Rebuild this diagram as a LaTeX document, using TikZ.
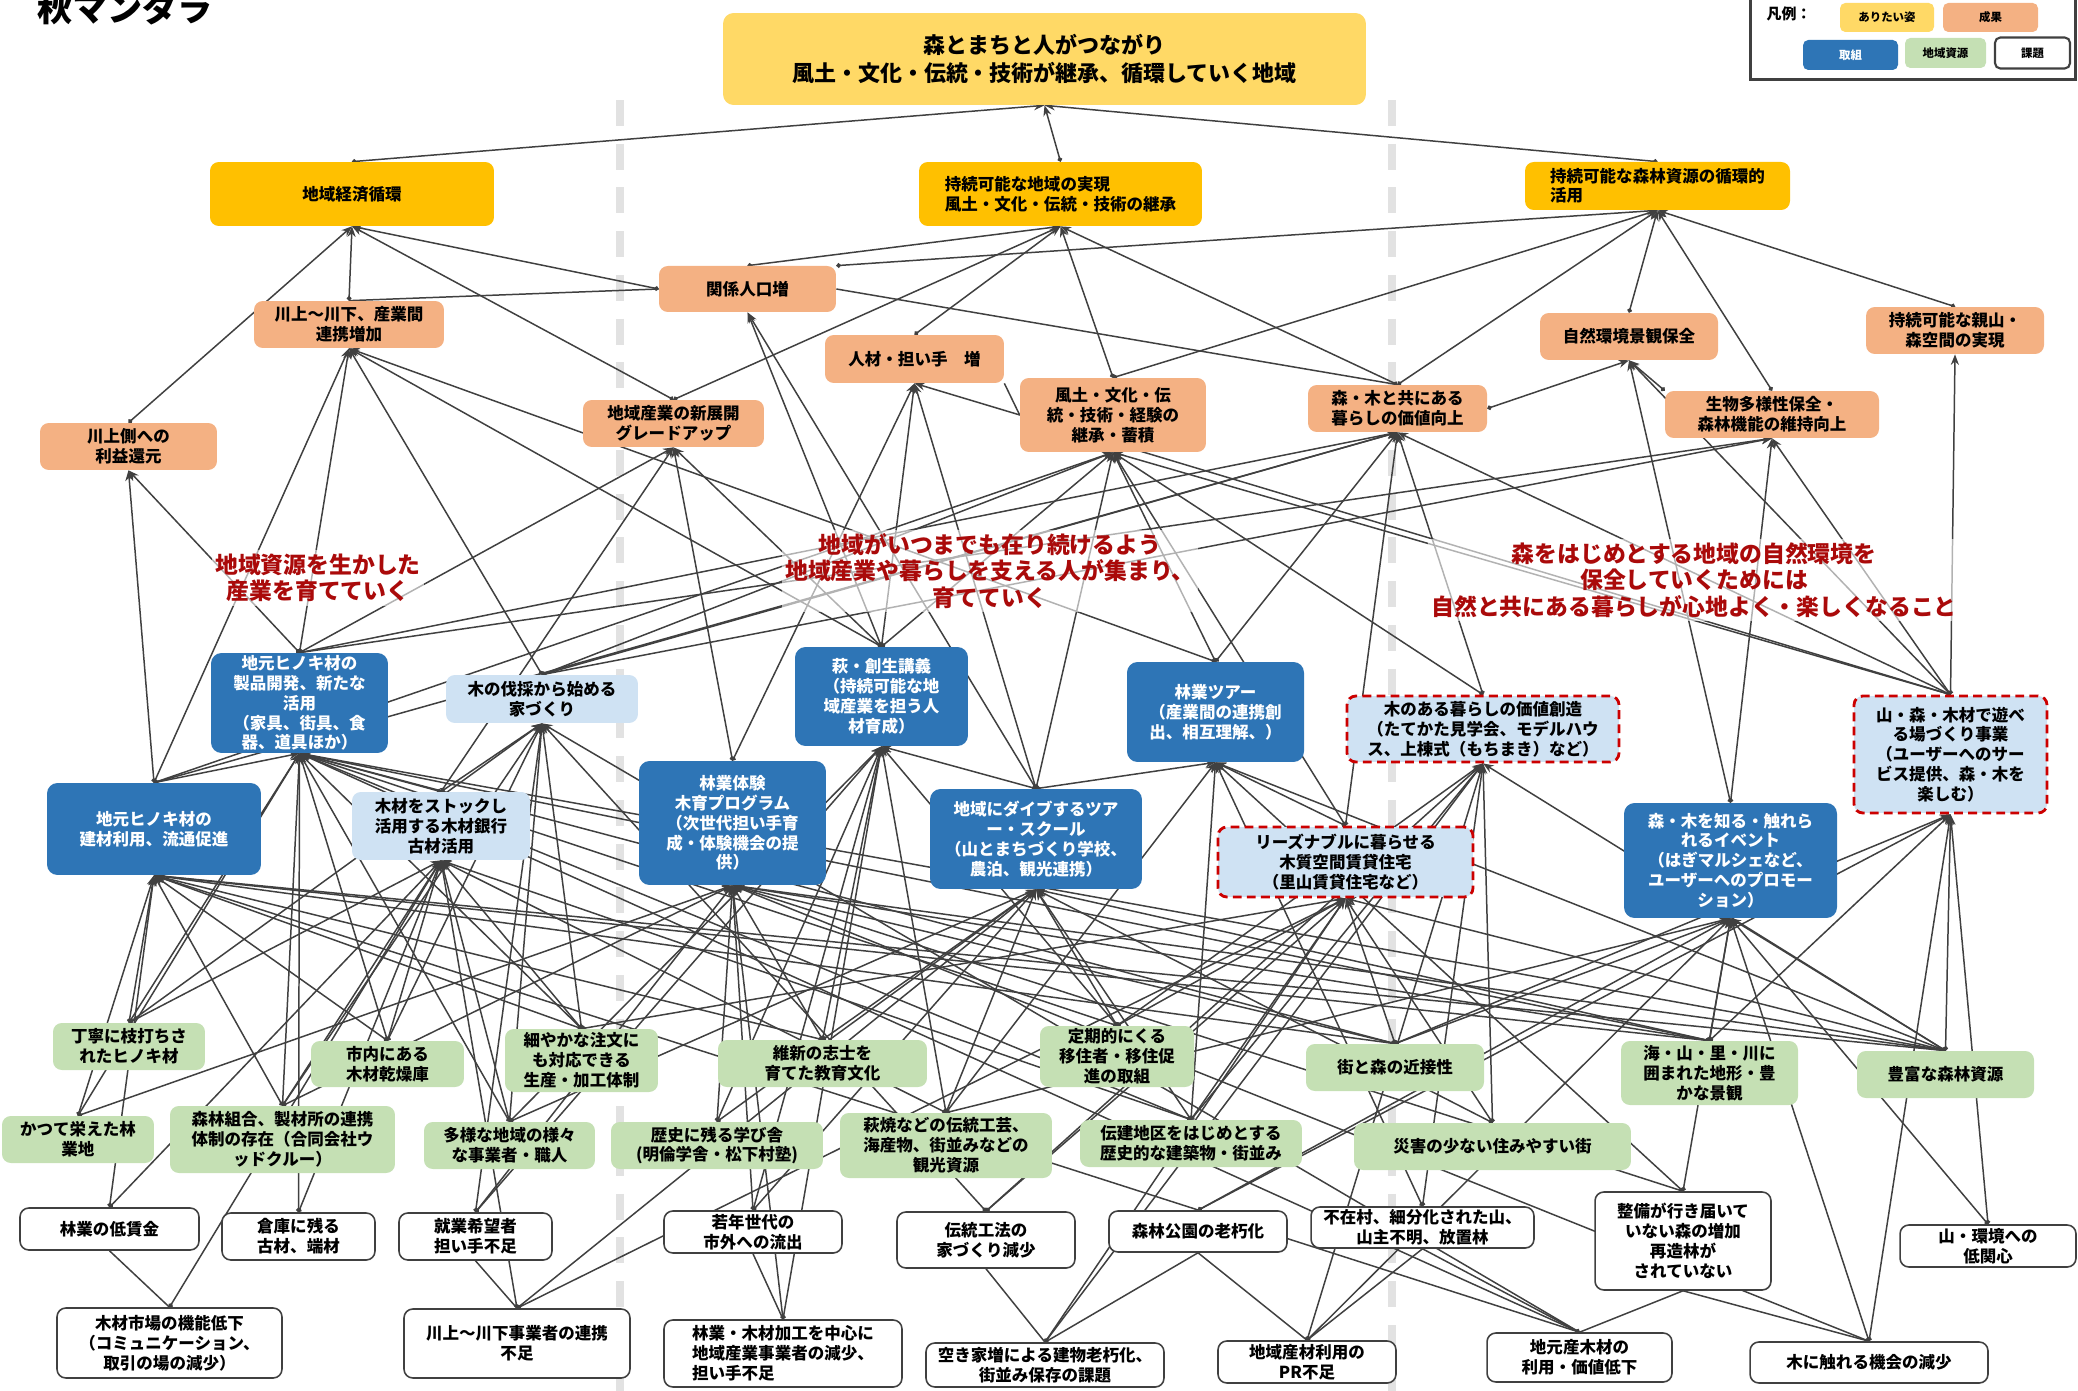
\documentclass[tikz,border=0pt]{standalone}
\usepackage{fontspec}
\setmainfont{Noto Sans CJK JP}
\usetikzlibrary{arrows.meta, backgrounds}

\begin{document}
\begin{tikzpicture}[x=0.02cm, y=-0.02cm,
    txt/.style={font=\fontsize{9.4}{11.3}\selectfont\bfseries, align=center, inner sep=1pt},
    aimbox/.style={txt, rectangle, rounded corners=6pt, fill=aimyellow},
    goalbox/.style={txt, rectangle, rounded corners=5pt, fill=goalgold},
    resultbox/.style={txt, rectangle, rounded corners=5pt, fill=resorange},
    actbox/.style={txt, rectangle, rounded corners=6pt, fill=actblue, text=white},
    actlight/.style={txt, rectangle, rounded corners=5pt, fill=actpale},
    actdash/.style={actlight, draw=dashred, line width=1.6pt, dash pattern=on 5pt off 3pt},
    srcbox/.style={txt, rectangle, rounded corners=5pt, fill=srcgreen},
    issuebox/.style={txt, rectangle, rounded corners=5pt, fill=white, draw=linegray, line width=0.9pt},
    redtxt/.style={font=\fontsize{13}{15}\selectfont\bfseries, align=center, text=msgred, fill=white, fill opacity=0.6, text opacity=1, inner sep=2pt},
    link/.style={draw=linegray, line width=0.85pt, {Circle[length=2.6pt]}-{Stealth[length=6pt, width=4.6pt]}},
    wire/.style={draw=linegray, line width=0.85pt},
    sepline/.style={draw=sepgray, line width=4.5pt, dash pattern=on 14.7pt off 10.2pt},
    legbox/.style={font=\fontsize{6.5}{7.5}\selectfont\bfseries, rectangle, rounded corners=3pt, minimum height=0.58cm}
  ]
  % Define colors
  \definecolor{aimyellow}{RGB}{255,217,102}
  \definecolor{goalgold}{RGB}{255,192,0}
  \definecolor{resorange}{RGB}{244,177,131}
  \definecolor{actblue}{RGB}{46,117,182}
  \definecolor{actpale}{RGB}{207,226,243}
  \definecolor{srcgreen}{RGB}{197,224,180}
  \definecolor{linegray}{RGB}{64,64,64}
  \definecolor{sepgray}{RGB}{226,226,226}
  \definecolor{dashred}{RGB}{204,0,0}
  \definecolor{msgred}{RGB}{170,10,10}

  \useasboundingbox (0,0) rectangle (2078,1391);

  % Title
  \node[font=\fontsize{20}{24}\selectfont\bfseries] (title) at (125,8) {秋マンダラ};

  % Legend
  \draw[line width=1.7pt, draw=linegray] (1750,-10) rectangle (2075,80);
  \node[font=\fontsize{8.5}{10}\selectfont\bfseries] (legTitle) at (1789,14) {凡例：};
  \node[legbox, fill=aimyellow, minimum width=1.88cm] (legAim) at (1887,17.5) {ありたい姿};
  \node[legbox, fill=resorange, minimum width=1.9cm] (legRes) at (1990.5,17.5) {成果};
  \node[legbox, fill=actblue, text=white, minimum width=1.9cm, minimum height=0.6cm] (legAct) at (1850.5,55) {取組};
  \node[legbox, fill=srcgreen, minimum width=1.62cm, minimum height=0.6cm] (legSrc) at (1945.5,53) {地域資源};
  \node[legbox, fill=white, draw=linegray, line width=1.2pt, minimum width=1.5cm, minimum height=0.62cm] (legIss) at (2032.5,53) {課題};

  % Vision
  \node[aimbox, font=\fontsize{12.5}{15.5}\selectfont\bfseries, minimum width=12.86cm, minimum height=1.84cm] (goal) at (1044.5,59) {森とまちと人がつながり\\風土・文化・伝統・技術が継承、循環していく地域};

  % Goals
  \node[goalbox, minimum width=5.68cm, minimum height=1.28cm] (gEco) at (352,194) {地域経済循環};
  \node[goalbox, align=left, minimum width=5.66cm, minimum height=1.28cm] (gReg) at (1060.5,194) {持続可能な地域の実現\\風土・文化・伝統・技術の継承};
  \node[goalbox, align=left, font=\fontsize{9.4}{10.8}\selectfont\bfseries, minimum width=5.3cm, minimum height=0.96cm] (gFor) at (1657.5,186) {持続可能な森林資源の循環的\\活用};

  % Results
  \node[resultbox, minimum width=3.54cm, minimum height=0.92cm] (rKan) at (747.5,289) {関係人口増};
  \node[resultbox, minimum width=3.8cm, minimum height=0.94cm] (rRyu) at (349,324.5) {川上～川下、産業間\\連携増加};
  \node[resultbox, minimum width=3.58cm, minimum height=0.96cm] (rJin) at (914.5,359) {人材・担い手　増};
  \node[resultbox, minimum width=3.62cm, minimum height=0.94cm] (rSan) at (673.5,423.5) {地域産業の新展開\\グレードアップ};
  \node[resultbox, minimum width=3.72cm, minimum height=1.48cm] (rFud) at (1113,415) {風土・文化・伝\\統・技術・経験の\\継承・蓄積};
  \node[resultbox, minimum width=3.58cm, minimum height=0.94cm] (rKur) at (1397.5,408.5) {森・木と共にある\\暮らしの価値向上};
  \node[resultbox, minimum width=3.56cm, minimum height=0.94cm] (rSiz) at (1629,336.5) {自然環境景観保全};
  \node[resultbox, minimum width=3.56cm, minimum height=0.94cm] (rOya) at (1955,330.5) {持続可能な親山・\\森空間の実現};
  \node[resultbox, minimum width=4.28cm, minimum height=0.94cm] (rSei) at (1772,414.5) {生物多様性保全・\\森林機能の維持向上};
  \node[resultbox, minimum width=3.54cm, minimum height=0.94cm] (rRie) at (128.5,446.5) {川上側への\\利益還元};

  % Messages
  \node[redtxt] (msgA) at (318,578) {地域資源を生かした\\産業を育てていく};
  \node[redtxt] (msgB) at (990,571) {地域がいつまでも在り続けるよう\\地域産業や暮らしを支える人が集まり、\\育てていく};
  \node[redtxt] (msgC) at (1694,580) {森をはじめとする地域の自然環境を\\保全していくためには\\自然と共にある暮らしが心地よく・楽しくなること};

  % Actions
  \node[actbox, minimum width=3.54cm, minimum height=2.0cm] (aSei) at (299.5,703) {地元ヒノキ材の\\製品開発、新たな\\活用\\（家具、街具、食\\器、道具ほか）};
  \node[actlight, minimum width=3.84cm, minimum height=0.96cm] (aIe) at (542,699) {木の伐採から始める\\家づくり};
  \node[actbox, minimum width=4.28cm, minimum height=1.84cm] (aKen) at (154,829) {地元ヒノキ材の\\建材利用、流通促進};
  \node[actlight, minimum width=3.56cm, minimum height=1.36cm] (aGin) at (441,826) {木材をストックし\\活用する木材銀行\\古材活用};
  \node[actbox, minimum width=3.46cm, minimum height=1.98cm] (aKou) at (881.5,696.5) {萩・創生講義\\（持続可能な地\\域産業を担う人\\材育成）};
  \node[actbox, minimum width=3.74cm, minimum height=2.48cm] (aTai) at (732.5,823) {林業体験\\木育プログラム\\（次世代担い手育\\成・体験機会の提\\供）};
  \node[actbox, minimum width=4.24cm, minimum height=2.0cm] (aDiv) at (1036,839) {地域にダイブするツア\\ー・スクール\\（山とまちづくり学校、\\農泊、観光連携）};
  \node[actbox, minimum width=3.54cm, minimum height=2.0cm] (aTou) at (1215.5,712) {林業ツアー\\（産業間の連携創\\出、相互理解、）};
  \node[actdash, minimum width=5.44cm, minimum height=1.32cm] (aKachi) at (1483,729) {木のある暮らしの価値創造\\（たてかた見学会、モデルハウ\\ス、上棟式（もちまき）など）};
  \node[actdash, minimum width=5.1cm, minimum height=1.4cm] (aChin) at (1345.5,862) {リーズナブルに暮らせる\\木質空間賃貸住宅\\（里山賃貸住宅など）};
  \node[actbox, minimum width=4.26cm, minimum height=2.3cm] (aEve) at (1730.5,860.5) {森・木を知る・触れら\\れるイベント\\（はぎマルシェなど、\\ユーザーへのプロモー\\ション）};
  \node[actdash, minimum width=3.86cm, minimum height=2.34cm] (aAso) at (1950.5,754.5) {山・森・木材で遊べ\\る場づくり事業\\（ユーザーへのサー\\ビス提供、森・木を\\楽しむ）};

  % Local resources
  \node[srcbox, minimum width=3.04cm, minimum height=0.94cm] (sEda) at (129,1046.5) {丁寧に枝打ちさ\\れたヒノキ材};
  \node[srcbox, minimum width=3.04cm, minimum height=0.94cm] (sRin) at (78,1139.5) {かつて栄えた林\\業地};
  \node[srcbox, minimum width=3.06cm, minimum height=0.92cm] (sKan) at (387.5,1064) {市内にある\\木材乾燥庫};
  \node[srcbox, minimum width=4.5cm, minimum height=1.34cm] (sKum) at (282.5,1139.5) {森林組合、製材所の連携\\体制の存在（合同会社ウ\\ッドクルー）};
  \node[srcbox, minimum width=3.06cm, minimum height=1.26cm] (sChu) at (581.5,1060.5) {細やかな注文に\\も対応できる\\生産・加工体制};
  \node[srcbox, minimum width=3.42cm, minimum height=0.94cm] (sTay) at (509.5,1145.5) {多様な地域の様々\\な事業者・職人};
  \node[srcbox, minimum width=4.18cm, minimum height=0.94cm] (sIsh) at (822.5,1063.5) {維新の志士を\\育てた教育文化};
  \node[srcbox, minimum width=4.24cm, minimum height=0.94cm] (sMan) at (717,1145.5) {歴史に残る学び舎\\(明倫学舎・松下村塾)};
  \node[srcbox, minimum width=4.24cm, minimum height=1.3cm] (sKko) at (946,1145.5) {萩焼などの伝統工芸、\\海産物、街並みなどの\\観光資源};
  \node[srcbox, minimum width=3.08cm, minimum height=1.22cm] (sTei) at (1117,1056.5) {定期的にくる\\移住者・移住促\\進の取組};
  \node[srcbox, minimum width=4.44cm, minimum height=0.94cm] (sDen) at (1191,1143.5) {伝建地区をはじめとする\\歴史的な建築物・街並み};
  \node[srcbox, minimum width=3.56cm, minimum height=0.94cm] (sKin) at (1395,1067.5) {街と森の近接性};
  \node[srcbox, minimum width=5.54cm, minimum height=0.94cm] (sSai) at (1492.5,1146.5) {災害の少ない住みやすい街};
  \node[srcbox, minimum width=3.54cm, minimum height=1.28cm] (sUmi) at (1709.5,1073) {海・山・里・川に\\囲まれた地形・豊\\かな景観};
  \node[srcbox, minimum width=3.54cm, minimum height=0.94cm] (sHou) at (1945.5,1074.5) {豊富な森林資源};

  % Issues
  \node[issuebox, minimum width=3.58cm, minimum height=0.84cm] (iChin) at (109.5,1229) {林業の低賃金};
  \node[issuebox, minimum width=3.06cm, minimum height=0.94cm] (iSou) at (298.5,1236.5) {倉庫に残る\\古材、端材};
  \node[issuebox, minimum width=3.06cm, minimum height=0.94cm] (iShu) at (475.5,1236.5) {就業希望者\\担い手不足};
  \node[issuebox, minimum width=3.56cm, minimum height=0.84cm] (iJak) at (753,1232) {若年世代の\\市外への流出};
  \node[issuebox, minimum width=3.56cm, minimum height=1.12cm] (iDen) at (986,1240) {伝統工法の\\家づくり減少};
  \node[issuebox, minimum width=3.56cm, minimum height=0.82cm] (iKoe) at (1198,1231.5) {森林公園の老朽化};
  \node[issuebox, minimum width=4.46cm, minimum height=0.82cm] (iFuz) at (1422.5,1227.5) {不在村、細分化された山、\\山主不明、放置林};
  \node[issuebox, minimum width=3.52cm, minimum height=1.96cm] (iSeb) at (1683,1241) {整備が行き届いて\\いない森の増加\\再造林が\\されていない};
  \node[issuebox, minimum width=3.52cm, minimum height=0.84cm] (iKan) at (1988,1246) {山・環境への\\低関心};
  \node[issuebox, minimum width=4.5cm, minimum height=1.4cm] (iIch) at (169.5,1343) {木材市場の機能低下\\（コミュニケーション、\\取引の場の減少）};
  \node[issuebox, minimum width=4.52cm, minimum height=1.38cm] (iRen) at (517,1343.5) {川上～川下事業者の連携\\不足};
  \node[issuebox, align=left, minimum width=4.76cm, minimum height=1.34cm] (iGen) at (783,1353.5) {林業・木材加工を中心に\\地域産業事業者の減少、\\担い手不足};
  \node[issuebox, minimum width=4.76cm, minimum height=0.88cm] (iAki) at (1045,1365) {空き家増による建物老朽化、\\街並み保存の課題};
  \node[issuebox, minimum width=3.56cm, minimum height=0.84cm] (iPR) at (1307,1362) {地域産材利用の\\PR不足};
  \node[issuebox, minimum width=3.7cm, minimum height=0.98cm] (iJim) at (1579.5,1357.5) {地元産木材の\\利用・価値低下};
  \node[issuebox, minimum width=4.76cm, minimum height=0.82cm] (iFur) at (1869,1362.5) {木に触れる機会の減少};

  \begin{pgfonlayer}{background}
    % Separators
    \draw[sepline] (620,100) -- (620,1391);
    \draw[sepline] (1392,100) -- (1392,1391);

    % Goals to vision
    \foreach \src in {gEco, gReg, gFor}
      \draw[link] (\src.north) -- (goal.south);

    % Results to goals
    \foreach \src/\dst in {rRie/gEco, rRyu/gEco, rSan/gEco, rSan/gReg, rJin/gReg, rFud/gReg, rKur/gReg,
        rFud/gFor, rKur/gFor, rSiz/gFor, rSei/gFor, rOya/gFor}
      \draw[link] (\src.north) -- (\dst.south);
    \draw[link] (rKan.west) -- (gEco.south);
    \draw[link] (rKan.north) -- (gReg.south);
    \draw[link] (rKan.north east) -- (gFor.south);
    \draw[wire] (rRyu.north) -- (rKan.west);
    \draw[wire] (rKan.east) -- (rKur.north);
    \draw[wire] (rJin.south east) -- (rFud.west);
    \draw[link] (rKur.east) -- (rSiz.south);
    \draw[link] (rSei.north west) -- (rSiz.south);

    % Actions to results
    \foreach \src/\dst in {aKen/rRie, aKen/rRyu, aKen/rKur, aKen/rFud,
        aSei/rRie, aSei/rRyu, aSei/rSan, aSei/rKur, aSei/rSei,
        aIe/rRyu, aIe/rFud, aIe/rKur, aIe/rSei, aGin/rSan,
        aKou/rKan, aKou/rSan, aKou/rJin, aKou/rFud, aKou/rRyu,
        aTai/rJin, aTai/rSan, aDiv/rKan, aDiv/rJin, aDiv/rFud,
        aTou/rRyu, aTou/rFud, aTou/rKur, aKachi/rKur, aKachi/rFud,
        aChin/rKur, aChin/rFud, aEve/rSiz, aEve/rSei,
        aAso/rOya, aAso/rSei, aAso/rSiz, aAso/rKur, aAso/rFud, aAso/rJin,
        aKen/aSei, aGin/aIe, aGin/aSei, aDiv/aKou, aDiv/aTou, aChin/aTou}
      \draw[link] (\src.north) -- (\dst.south);

    % Resources to actions
    \foreach \src/\dst in {sEda/aKen, sEda/aSei, sEda/aGin, sEda/aIe,
        sRin/aKen, sRin/aSei, sRin/aTai,
        sKan/aKen, sKan/aSei, sKan/aGin, sKan/aIe,
        sKum/aKen, sKum/aSei, sKum/aGin, sKum/aIe, sKum/aTai,
        sChu/aKen, sChu/aSei, sChu/aIe, sChu/aGin, sChu/aChin,
        sTay/aSei, sTay/aGin, sTay/aIe, sTay/aKou, sTay/aDiv,
        sIsh/aKou, sIsh/aTai, sIsh/aDiv, sIsh/aKen, sMan/aKou, sMan/aTai, sMan/aDiv,
        sKko/aDiv, sKko/aKou, sKko/aEve, sKko/aTou, sKko/aGin,
        sTei/aDiv, sTei/aChin, sTei/aKachi, sTei/aKou, sTei/aSei,
        sDen/aDiv, sDen/aKachi, sDen/aChin, sDen/aTou, sDen/aSei, sDen/aGin,
        sKin/aKen, sKin/aSei, sKin/aTai, sKin/aChin, sKin/aEve, sKin/aAso,
        sSai/aChin, sSai/aKachi, sSai/aDiv,
        sUmi/aKen, sUmi/aSei, sUmi/aTai, sUmi/aDiv, sUmi/aEve, sUmi/aAso,
        sHou/aKen, sHou/aSei, sHou/aTai, sHou/aTou, sHou/aEve, sHou/aAso, sHou/aKachi, sHou/aChin}
      \draw[link] (\src.north) -- (\dst.south);

    % Issues to actions
    \foreach \src/\dst in {iChin/aKen, iChin/aGin, iSou/aGin, iSou/aSei,
        iShu/aKou, iShu/aTai, iShu/aIe, iJak/aKou, iJak/aTai, iJak/aDiv,
        iDen/aIe, iDen/aKachi, iDen/aChin, iKoe/aEve, iKoe/aAso,
        iFuz/aTou, iFuz/aKachi, iSeb/aTai, iSeb/aEve, iSeb/aTou,
        iKan/aEve, iKan/aAso, iIch/aGin, iRen/aDiv, iRen/aChin, iRen/aGin,
        iGen/aKou, iGen/aTai, iAki/aChin, iAki/aKachi, iPR/aKachi, iPR/aEve,
        iJim/aKen, iJim/aSei, iJim/aIe, iFur/aEve, iFur/aAso, iFur/aTai}
      \draw[link] (\src.north) -- (\dst.south);

    % Issues among themselves
    \foreach \src/\dst in {iChin/iIch, iShu/iRen, iJak/iGen, iDen/iAki, iKoe/iAki,
        iKoe/iPR, iFuz/iPR, iFuz/iJim, iSeb/iJim, iSeb/iFur}
      \draw[wire] (\src.south) -- (\dst.north);
  \end{pgfonlayer}
\end{tikzpicture}
\end{document}
